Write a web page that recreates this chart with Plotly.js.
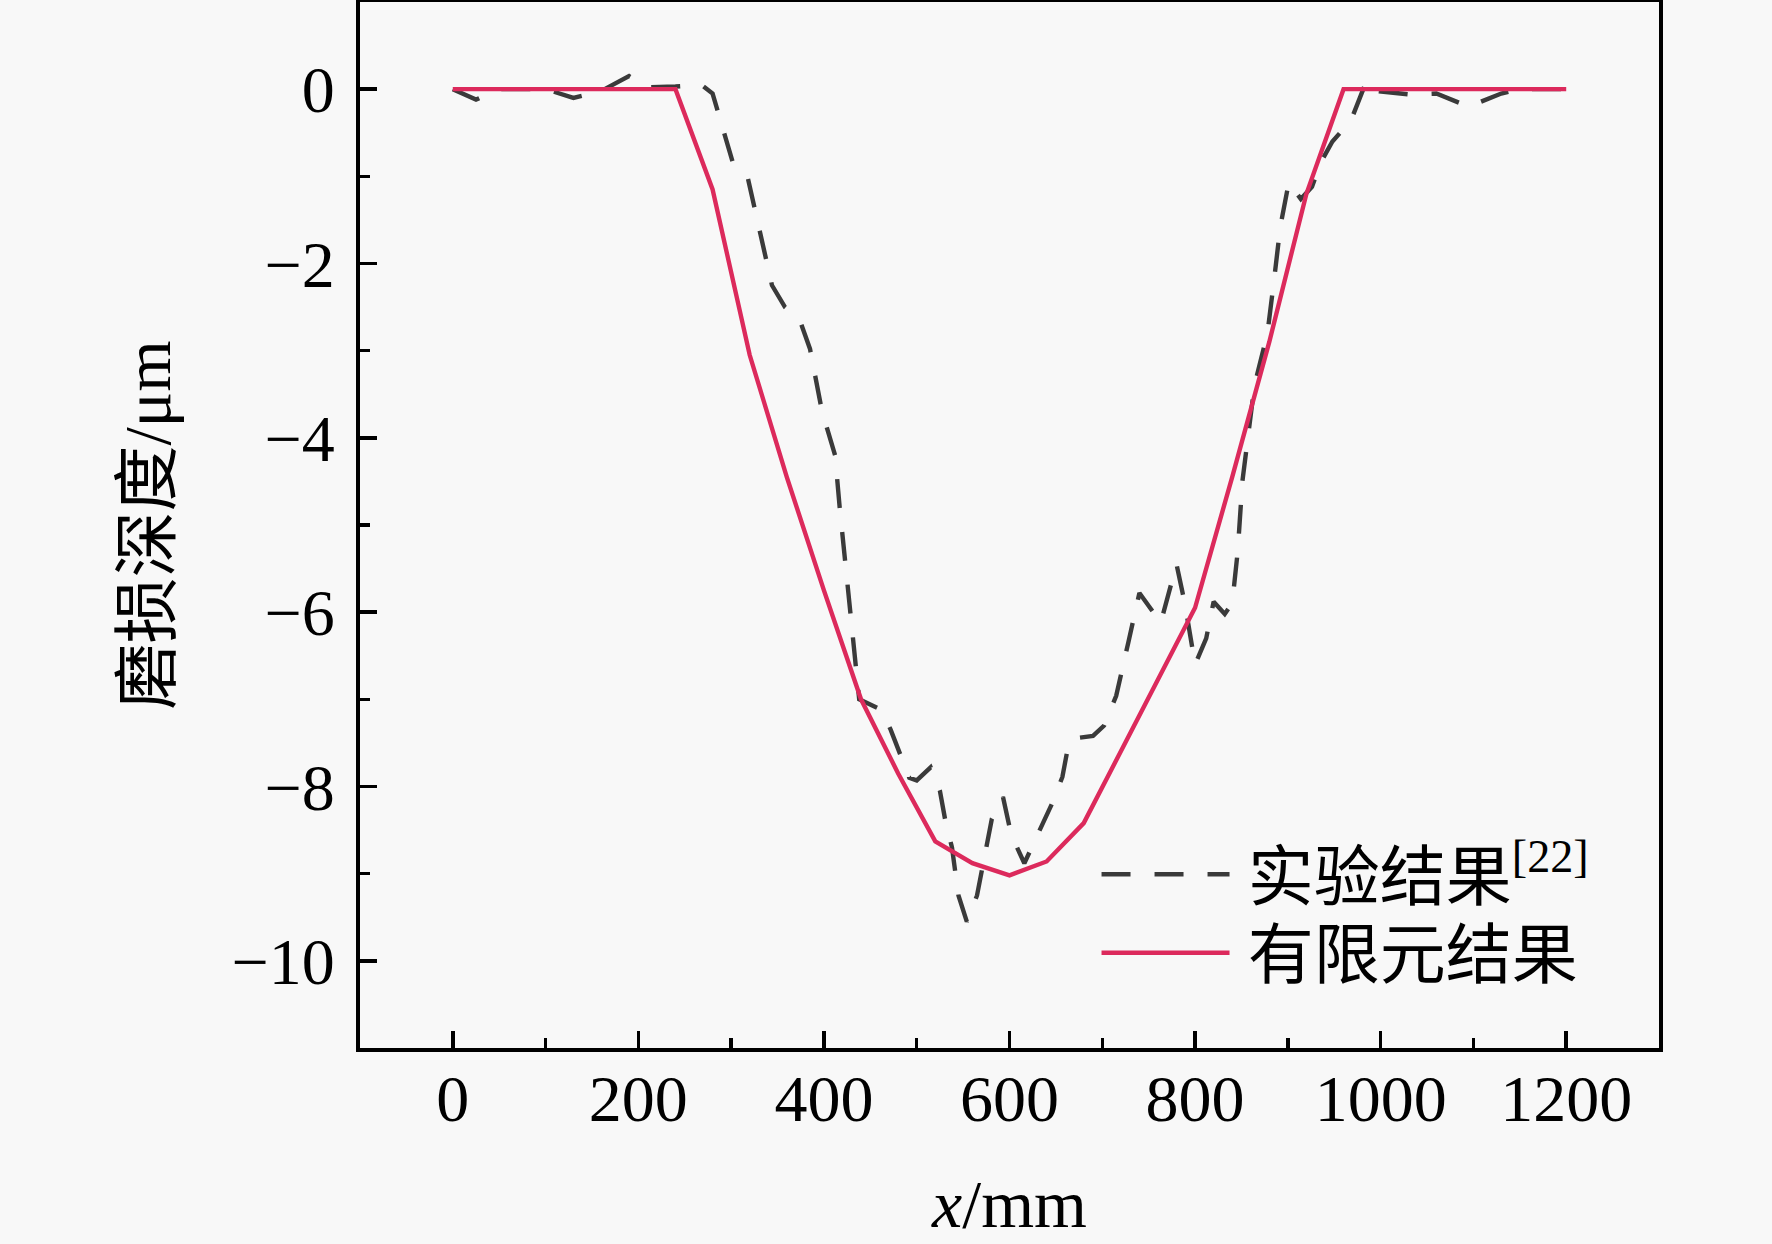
<!DOCTYPE html>
<html>
<head>
<meta charset="utf-8">
<script src="https://cdn.plot.ly/plotly-3.0.1.min.js"></script>
<style>
  html, body { margin: 0; padding: 0; background: #f8f8f8; }
  #chart { width: 1772px; height: 1244px; }
</style>
</head>
<body>
<div id="chart"></div>
<script>
// Experimental result (dashed)
const expX = [0, 25, 50, 100, 130, 160, 190, 210, 240, 268, 280, 292, 302, 318, 337, 344, 358, 374, 385, 398, 405, 412, 417, 433, 438, 462, 472, 492, 500, 515, 525, 531, 538, 545, 554, 565, 576, 581, 593, 602, 616, 635, 647, 657, 663, 668, 690, 702, 715, 728, 740, 763, 780, 789, 800, 812, 820, 832, 840, 846, 851, 864, 878, 885, 892, 901, 914, 926, 936, 948, 968, 985, 995, 1030, 1060, 1095, 1130, 1150, 1200];
const expY = [0, -0.12, 0, 0, -0.1, -0.02, 0.15, 0.02, 0.03, 0.05, -0.05, -0.5, -0.85, -1.02, -1.91, -2.25, -2.5, -2.65, -2.98, -3.7, -3.95, -4.2, -4.8, -6.55, -7.0, -7.12, -7.35, -7.9, -7.93, -7.78, -8.05, -8.4, -8.7, -9.25, -9.55, -9.25, -8.65, -8.37, -8.12, -8.56, -8.88, -8.45, -8.17, -7.89, -7.55, -7.45, -7.42, -7.3, -6.96, -6.35, -5.78, -6.12, -5.45, -5.9, -6.6, -6.3, -5.88, -6.02, -5.9, -5.3, -4.5, -3.4, -2.8, -2.2, -1.57, -1.07, -1.26, -1.12, -0.83, -0.6, -0.36, 0.1, -0.02, -0.06, -0.05, -0.2, -0.05, 0, 0];

// Finite element result (solid)
const femX = [0, 40, 80, 120, 160, 200, 240, 280, 320, 360, 400, 440, 480, 520, 560, 600, 640, 680, 720, 760, 800, 840, 880, 920, 960, 1000, 1040, 1080, 1120, 1160, 1200];
const femY = [0, 0, 0, 0, 0, 0, 0, -1.15, -3.05, -4.45, -5.75, -7.0, -7.85, -8.63, -8.88, -9.02, -8.86, -8.42, -7.6, -6.78, -5.95, -4.45, -2.9, -1.2, 0, 0, 0, 0, 0, 0, 0];

const seriesNames = ['\u2009实验结果<sup>[22]</sup>', '\u2009有限元结果'];
const xTitle = '<i>x</i>/mm';
const yTitle = '磨损深度/μm';

const FONT = 'Liberation Serif, "Times New Roman", "Noto Sans CJK SC", serif';

const traces = [
  {
    x: expX, y: expY, type: 'scatter', mode: 'lines', name: seriesNames[0],
    line: { color: '#3a3a3a', width: 4.4, dash: '29px,24px' },
    legend: 'legend'
  },
  {
    x: femX, y: femY, type: 'scatter', mode: 'lines', name: seriesNames[1],
    line: { color: '#dc2a5c', width: 4.4 },
    legend: 'legend2'
  }
];

const legendBase = {
  xanchor: 'left', yanchor: 'middle',
  bgcolor: 'rgba(0,0,0,0)', borderwidth: 0,
  font: { family: FONT, size: 66, color: '#000' },
  itemwidth: 128
};

const layout = {
  width: 1772, height: 1244,
  paper_bgcolor: '#f8f8f8', plot_bgcolor: '#f8f8f8',
  margin: { l: 360, r: 113, t: 2, b: 196 },
  font: { family: FONT, color: '#000' },
  showlegend: true,
  legend: Object.assign({}, legendBase, { x: 0.567, y: 0.166 }),
  legend2: Object.assign({}, legendBase, { x: 0.567, y: 0.091 }),
  xaxis: {
    range: [-100, 1300], tickvals: [0, 200, 400, 600, 800, 1000, 1200],
    ticks: 'inside', ticklen: 17, tickwidth: 3.5, tickcolor: '#000',
    minor: { ticks: 'inside', ticklen: 10, tickwidth: 3.5, tickcolor: '#000', dtick: 100, tick0: 0, showgrid: false },
    showline: true, linecolor: '#000', linewidth: 4, mirror: true,
    showgrid: false, zeroline: false,
    tickfont: { family: FONT, size: 66, color: '#000' },
    ticklabelstandoff: -10,
    title: { text: xTitle, font: { family: FONT, size: 68, color: '#000' }, standoff: 46 }
  },
  yaxis: {
    range: [-11, 1], tickvals: [0, -2, -4, -6, -8, -10],
    ticks: 'inside', ticklen: 17, tickwidth: 3.5, tickcolor: '#000',
    minor: { ticks: 'inside', ticklen: 10, tickwidth: 3.5, tickcolor: '#000', dtick: 1, tick0: 0, showgrid: false },
    showline: true, linecolor: '#000', linewidth: 4, mirror: true,
    showgrid: false, zeroline: false,
    tickfont: { family: FONT, size: 66, color: '#000' },
    ticklabelstandoff: 8,
    title: { text: yTitle, font: { family: FONT, size: 66, color: '#000' }, standoff: 40 }
  }
};

Plotly.newPlot('chart', traces, layout, { displayModeBar: false, staticPlot: true });
</script>
</body>
</html>
